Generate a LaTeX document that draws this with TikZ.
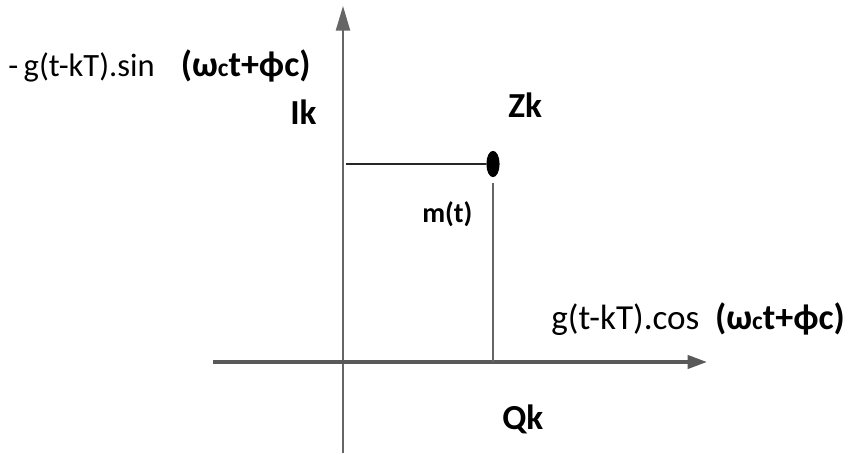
\documentclass[tikz,border=0pt]{standalone}
\usepackage{fontspec}
\setmainfont{Carlito}
\usetikzlibrary{arrows.meta,positioning,shapes.geometric}

\newcommand{\argtext}{(ω{\fontsize{14.5}{16}\selectfont c}t+ϕc)}

\begin{document}
\begin{tikzpicture}[
    x=0.02cm, y=-0.02cm,
    lbl/.style={inner sep=0pt, font=\fontsize{20}{22}\selectfont},
    arg/.style={inner sep=0pt, font=\fontsize{20.5}{22}\selectfont\bfseries},
    ptlbl/.style={inner sep=0pt, font=\fontsize{20}{22}\selectfont\bfseries},
    mlbl/.style={inner sep=0pt, font=\fontsize{16}{18}\selectfont\bfseries},
    yaxis/.style={-{Triangle[length=14pt,width=8pt]}, line width=1.1pt, black!60},
    xaxis/.style={-{Triangle[length=11pt,width=7.5pt]}, line width=2pt, black!65},
    zdot/.style={ellipse, fill=black, inner sep=0pt, minimum width=7.5pt, minimum height=15pt}
]
\useasboundingbox (0,0) rectangle (853,455);

% axes
\coordinate (ybot) at (343,453);
\coordinate (ytop) at (343,6);
\coordinate (xleft) at (213,362);
\coordinate (xright) at (707,362);
\draw[yaxis] (ybot) -- (ytop);
\draw[xaxis] (xleft) -- (xright);

% point Zk and its projections
\coordinate (ik) at (346,164);
\node[zdot] (z) at (493,164) {};
\coordinate (qk) at (493,362);
\draw[line width=1.6pt, black!85] (ik) -- (z);
\draw[line width=1.1pt, black!60] ([yshift=-3pt]z.south) -- (qk);

% labels
\node[lbl, anchor=base west, font=\fontsize{18.5}{22}\selectfont] (sinlbl) at (8,77) {-\,g(t-kT).sin};
\node[arg, base right=14.5pt of sinlbl] (sinarg) {\argtext};
\node[lbl, anchor=base west] (coslbl) at (551,330) {g(t-kT).cos};
\node[arg, base right=8.5pt of coslbl] (cosarg) {\argtext};
\node[ptlbl, anchor=base west] (iklbl) at (290,125) {Ik};
\node[ptlbl, anchor=base west] (zklbl) at (508,118) {Zk};
\node[ptlbl, anchor=base west] (qklbl) at (502,430) {Qk};
\node[mlbl, anchor=base west] (mlbl) at (422,223) {m(t)};
\end{tikzpicture}
\end{document}
